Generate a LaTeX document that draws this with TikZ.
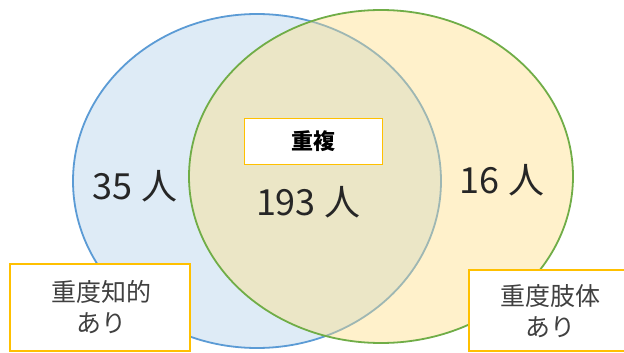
\documentclass[tikz,border=0pt]{standalone}
\usepackage{fontspec}
\usetikzlibrary{shapes.geometric}
\setmainfont{Noto Sans CJK JP}
\newfontfamily\jpfont{Noto Sans CJK JP}
\definecolor{eblue}{HTML}{5B9BD5}
\definecolor{egreen}{HTML}{70AD47}
\definecolor{eyell}{HTML}{FFC000}
\definecolor{yfill}{RGB}{255,223,131}
\definecolor{txt}{HTML}{262626}
\definecolor{lbl}{HTML}{404040}
\tikzset{
  num/.style={text=txt, font=\jpfont\fontsize{36}{40}\selectfont, inner sep=0pt},
  labelbox/.style={draw=eyell, line width=1.8pt, fill=white},
  lbltext/.style={text=lbl, font=\jpfont\fontsize{25}{31}\selectfont, align=center, inner sep=0pt},
}
\begin{document}
\begin{tikzpicture}[x=1pt,y=-1pt]
\useasboundingbox (0,0) rectangle (624,353);
\fill[white] (0,0) rectangle (624,353);
% ellipses
\node[ellipse, minimum width=368pt, minimum height=334pt, inner sep=0pt, draw=eblue, line width=1.8pt, fill=eblue, fill opacity=0.2, draw opacity=1] (blue) at (257,181) {};
\node[ellipse, minimum width=384pt, minimum height=333pt, inner sep=0pt, draw=egreen, line width=1.8pt, fill=yfill, fill opacity=0.41, draw opacity=1] (green) at (381,176.5) {};
% numbers
\node[num] (n35) at (135,186) {35 人};
\node[num] (n193) at (308,202) {193 人};
\node[num] (n16) at (502,180) {16 人};
% center box
\node[draw=eyell, line width=1.6pt, fill=white, minimum width=138pt, minimum height=46pt, inner sep=0pt, font=\jpfont\bfseries\fontsize{22}{26}\selectfont, text=black] (dup) at (313.5,141.5) {重複};
% label boxes
\draw[labelbox] (10,264) rectangle (190,351);
\node[lbltext] (lleft) at (101,307.5) {重度知的\\あり};
\draw[labelbox] (469,270) rectangle (640,351);
\node[lbltext] (lright) at (550,311.5) {重度肢体\\あり};
\end{tikzpicture}
\end{document}
